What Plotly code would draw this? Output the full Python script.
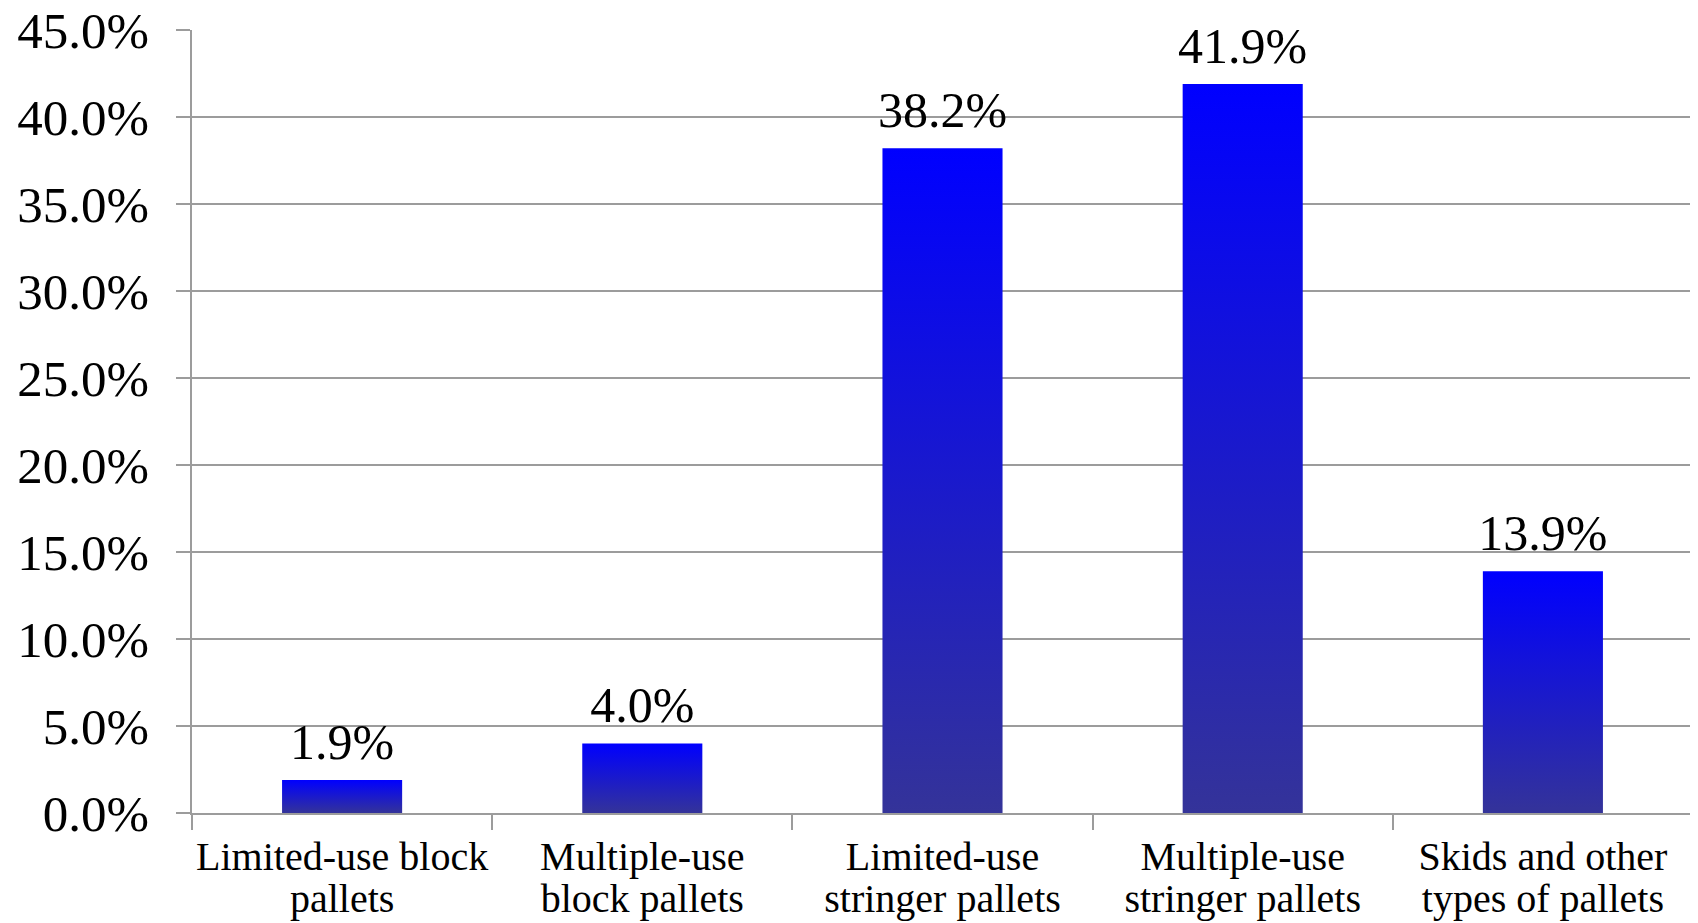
import plotly.graph_objects as go

# ---- data ----
cat_line1 = ["Limited-use block", "Multiple-use", "Limited-use",
             "Multiple-use", "Skids and other"]
cat_line2 = ["pallets", "block pallets", "stringer pallets",
             "stringer pallets", "types of pallets"]
values = [1.9, 4.0, 38.2, 41.9, 13.9]
y_tick_values = [0, 5, 10, 15, 20, 25, 30, 35, 40, 45]
y_tick_labels = ["0.0%", "5.0%", "10.0%", "15.0%", "20.0%", "25.0%",
                 "30.0%", "35.0%", "40.0%", "45.0%"]

# ---- style ----
FONT = "Liberation Serif"
GRID = "#9c9c9c"
BAR_W = 0.4
GRADIENT = [[0, "#343399"], [1, "#0000ff"]]

positions = list(range(len(values)))
xrange_ = [-0.5, len(values) - 0.5]

fig = go.Figure()
for pos, v in zip(positions, values):
    x0, x1 = pos - BAR_W / 2, pos + BAR_W / 2
    fig.add_trace(go.Scatter(
        x=[x0, x1, x1, x0, x0], y=[0, 0, v, v, 0],
        mode="lines", line=dict(width=0),
        fill="toself",
        fillgradient=dict(type="vertical", colorscale=GRADIENT),
        hoverinfo="skip", showlegend=False,
    ))

fig.add_trace(go.Scatter(
    x=positions, y=values, mode="markers+text",
    marker=dict(size=12, opacity=0),
    text=[f"{v:.1f}%" for v in values],
    textposition="top center",
    textfont=dict(family=FONT, size=50, color="black"),
    cliponaxis=False,
    showlegend=False, hoverinfo="skip",
))

# invisible trace so the second-line category axis is drawn
fig.add_trace(go.Scatter(
    x=positions, y=values, xaxis="x2", mode="none",
    showlegend=False, hoverinfo="skip",
))

fig.update_layout(
    width=1690, height=915,
    margin=dict(l=184, r=5, t=22, b=110),
    paper_bgcolor="white", plot_bgcolor="white",
    showlegend=False,
    xaxis=dict(
        range=xrange_, automargin=False,
        tickmode="array", tickvals=positions, ticktext=cat_line1,
        ticks="", showgrid=False, zeroline=False,
        showline=True, linecolor=GRID, linewidth=1.5,
        tickfont=dict(family=FONT, size=40, color="black"),
        ticklabelstandoff=7, ticklabeloverflow="allow",
        minor=dict(tick0=-0.5, dtick=1, ticks="outside", ticklen=15,
                   tickcolor=GRID, tickwidth=1.5, showgrid=False),
    ),
    xaxis2=dict(
        overlaying="x", anchor="y", side="bottom",
        range=xrange_, automargin=False,
        tickmode="array", tickvals=positions, ticktext=cat_line2,
        ticks="", showgrid=False, zeroline=False, showline=False,
        tickfont=dict(family=FONT, size=40, color="black"),
        ticklabelstandoff=58, ticklabeloverflow="allow",
    ),
    yaxis=dict(
        range=[0, 45], automargin=False,
        tickmode="array", tickvals=y_tick_values, ticktext=y_tick_labels,
        ticks="outside", ticklen=14, tickcolor=GRID, tickwidth=1.5,
        showgrid=True, gridcolor=GRID, gridwidth=1.5,
        zeroline=False, showline=True, linecolor=GRID, linewidth=1.5,
        tickfont=dict(family=FONT, size=51, color="black"),
        ticklabelstandoff=17, ticklabeloverflow="allow",
    ),
)

fig.write_html("out.html")
